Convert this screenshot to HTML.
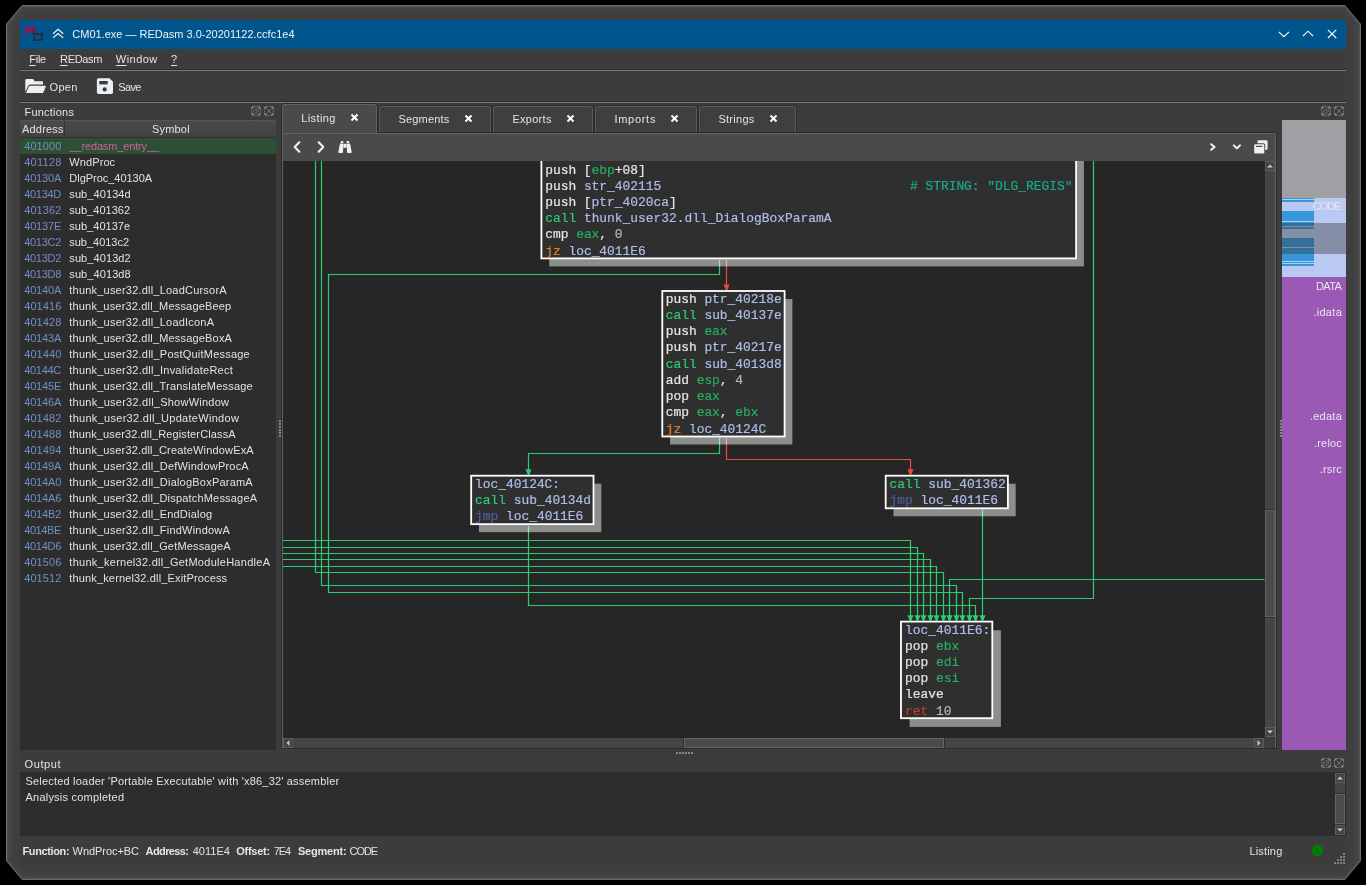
<!DOCTYPE html>
<html><head><meta charset="utf-8"><title>REDasm</title>
<style>
*{box-sizing:border-box;margin:0;padding:0}
html,body{width:1366px;height:885px;overflow:hidden;background:#000}
#root{left:0;top:0;width:1366px;height:885px;will-change:transform}
body{position:relative;font-family:"Liberation Sans",sans-serif;font-size:11px;letter-spacing:.27px;color:#e4e4e4;-webkit-font-smoothing:antialiased}
div,span,i,b,svg{position:absolute;font-style:normal;font-weight:normal;white-space:pre}
#win{left:20px;top:20px;width:1326px;height:845px;background:#3c3c3c}
#title{left:20px;top:20px;width:1326px;height:29px;background:#00558c}
.hl{left:20px;width:1326px;height:1px;background:#7a7a7a;box-shadow:0 -1px 0 0 #2e2e2e}
/* functions */
#fl{left:20px;top:137px;width:256px;height:613px;background:#2d2d2d}
#fh{left:20px;top:120px;width:256px;height:17px;background:linear-gradient(#4a4a4a,#414141);border-top:1px solid #555}
#fh .sep{left:44px;top:0;width:1px;height:16px;background:#333}
#fl div{left:0;width:256px;height:16px;line-height:16px;font-size:11px}
#fl div.sel{background:#2d5035}
/* tabs */
.tab{top:106px;height:26px;background:#3f3f3f;border:1px solid #5a5a5a;border-bottom:none;border-radius:3px 3px 0 0;box-shadow:0 0 0 1px #2c2c2c}
.tab.on{top:104px;height:29px;background:#4a4a4a;border-color:#626262;box-shadow:-1px 0 0 0 #2c2c2c,1px 0 0 0 #2c2c2c,0 -1px 0 0 #2c2c2c}
.tab svg{top:6.7px;width:9px;height:9px}
.tab.on svg{top:7.8px}
#pane{left:282px;top:133px;width:994px;height:615px;background:#4a4a4a;border:1px solid #626262;border-bottom:none;box-shadow:0 0 0 1px #2b2b2b}
#graph{left:283px;top:161px;width:982px;height:577px;background:#262626;overflow:hidden}
.ln{font-family:"Liberation Mono",monospace;font-size:12.9px;letter-spacing:0;line-height:16px;height:16px;color:#e6e6e6;white-space:pre;-webkit-text-stroke:.2px currentColor}
.r{color:#27ae60}.l{color:#afbdea}.c{color:#2ecc71}.j{color:#e67e22}.m{color:#4e5fa3}.n{color:#b4b4b4}.x{color:#c0392b}.k{color:#18ab8a}
.sb{background:#454545}
.sbtn{background:#444;border:1px solid #5c5c5c}
.sthumb{background:#4b4b4b;border:1px solid #636363;box-shadow:0 -1px 0 0 #303030,0 1px 0 0 #303030}
.sthumb.h{box-shadow:-1px 0 0 0 #303030,1px 0 0 0 #303030}
.tx{line-height:14px;white-space:pre}
.tx u{text-decoration:underline;text-underline-offset:1.5px;text-decoration-thickness:1px}

</style></head>
<body><div id="root">
<svg id="frame" style="left:0;top:0;width:1366px;height:885px" viewBox="0 0 1366 885"><path d="M22 5H1345L1361 24V861L1345 880H22L6 861V24Z" fill="#3e3e3e"/><path d="M22.275 5.5H1344.72L1360.5 24.25V860.75L1344.72 879.5H22.275L6.5 860.75V24.25Z" fill="none" stroke="#6c6c6c" stroke-width="1"/><path d="M22.825 6.5H1344.17L1359.5 24.75V860.25L1344.17 878.5H22.825L7.5 860.25V24.75Z" fill="none" stroke="#505050" stroke-width="1"/><path d="M23.375 7.5H1343.62L1358.5 25.25V859.75L1343.62 877.5H23.375L8.5 859.75V25.25Z" fill="none" stroke="#484848" stroke-width="1"/><path d="M23.925 8.5H1343.08L1357.5 25.75V859.25L1343.08 876.5H23.925L9.5 859.25V25.75Z" fill="none" stroke="#444444" stroke-width="1"/><path d="M24.475 9.5H1342.53L1356.5 26.25V858.75L1342.53 875.5H24.475L10.5 858.75V26.25Z" fill="none" stroke="#414141" stroke-width="1"/><path d="M25.025 10.5H1341.97L1355.5 26.75V858.25L1341.97 874.5H25.025L11.5 858.25V26.75Z" fill="none" stroke="#454545" stroke-width="1"/><path d="M25.575 11.5H1341.42L1354.5 27.25V857.75L1341.42 873.5H25.575L12.5 857.75V27.25Z" fill="none" stroke="#404040" stroke-width="1"/><path d="M26.125 12.5H1340.88L1353.5 27.75V857.25L1340.88 872.5H26.125L13.5 857.25V27.75Z" fill="none" stroke="#434343" stroke-width="1"/></svg>
<div id="win"></div>
<div id="title"><svg style="left:0;top:0;width:1326px;height:29px" viewBox="20 20 1326 29">
<path d="M30.3 31L34.2 34" fill="none" stroke="#6a1430" stroke-width="1.85"/><path d="M25.9 34.8V27.9H34.1V31H28.6" fill="none" stroke="#c20538" stroke-width="1.85" stroke-linejoin="miter"/><path d="M34.1 28.4V31H31" fill="none" stroke="#98102f" stroke-width="1.85" stroke-linejoin="miter"/>
<path d="M33.2 34H42V38.8L40.8 40.1H34.2V36.2" fill="none" stroke="#2b2b33" stroke-width="1.9" stroke-linejoin="miter"/>
<path d="M53 33.7L58.1 29.3L63.2 33.7M53 37.9L58.1 33.5L63.2 37.9" fill="none" stroke="#f2f5f8" stroke-width="1.25"/>
<path d="M1278.8 31.8L1283.9 36.6L1289 31.8M1303 36L1308 31.2L1313 36M1327.9 29.8L1336.3 38M1336.3 29.8L1327.9 38" fill="none" stroke="#f6f8fa" stroke-width="1.15"/>
</svg></div>
<div class="hl" style="top:70px"></div>
<svg style="left:25px;top:78px;width:22px;height:17px" viewBox="0 0 22 17"><path d="M0.3 14.3V2.2Q0.3 1.1 1.3 1.1H7.5Q8.3 1.1 8.8 1.8L9.6 3.2H17Q18 3.2 18 4.2V6.6H5Q3.6 6.6 3.1 7.9Z" fill="#eceff1"/><path d="M1 15.1L3.9 8.4Q4.2 7.7 5 7.7H20Q21.2 7.7 20.8 8.7L18.3 14.4Q18 15.1 17.2 15.1Z" fill="#eceff1"/></svg>
<svg style="left:96px;top:78px;width:18px;height:17px" viewBox="0 0 18 17"><path d="M0.9 2Q0.9 0.2 2.7 0.2H13.4L17 3.8V14.3Q17 16.1 15.2 16.1H2.7Q0.9 16.1 0.9 14.3Z" fill="#eceff1"/><rect x="3.3" y="3" width="8.4" height="3.4" fill="#3c3c3c"/><circle cx="8.7" cy="11.4" r="2.1" fill="#3c3c3c"/></svg>
<div class="hl" style="top:102px"></div>

<!-- Functions dock -->
<svg class="dbtn" style="left:251px;top:105.5px;width:24px;height:11px" viewBox="0 0 24 11"><g fill="none" stroke-width="1"><path d="M2.5 .5H7.5L9.5 2.5V7.5L7.5 9.5H2.5L.5 7.5V2.5Z" stroke="#605e5c"/><path d="M.5 2.5L2.5 .5M7.5 .5L9.5 2.5M9.5 7.5L7.5 9.5M2.5 9.5L.5 7.5" stroke="#9c9896" stroke-width="1.3"/><path d="M2.6 4.2H6V7.4H2.6Z" stroke="#6a6866"/><path d="M4.2 2.7H7.5V6H6.6" stroke="#626060"/><path d="M15.5 .5H20.5L22.5 2.5V7.5L20.5 9.5H15.5L13.5 7.5V2.5Z" stroke="#605e5c"/><path d="M13.5 2.5L15.5 .5M20.5 .5L22.5 2.5M22.5 7.5L20.5 9.5M15.5 9.5L13.5 7.5" stroke="#9c9896" stroke-width="1.3"/><path d="M15.6 2.6L20.4 7.4M20.4 2.6L15.6 7.4" stroke="#757371"/></g></svg>
<div id="fh"><div class="sep"></div></div>
<div id="fl">
<div class="sel" style="top:1px"></div>
<div style="top:17px"></div>
<div style="top:33px"></div>
<div style="top:49px"></div>
<div style="top:65px"></div>
<div style="top:81px"></div>
<div style="top:97px"></div>
<div style="top:113px"></div>
<div style="top:129px"></div>
<div style="top:145px"></div>
<div style="top:161px"></div>
<div style="top:177px"></div>
<div style="top:193px"></div>
<div style="top:209px"></div>
<div style="top:225px"></div>
<div style="top:241px"></div>
<div style="top:257px"></div>
<div style="top:273px"></div>
<div style="top:289px"></div>
<div style="top:305px"></div>
<div style="top:321px"></div>
<div style="top:337px"></div>
<div style="top:353px"></div>
<div style="top:369px"></div>
<div style="top:385px"></div>
<div style="top:401px"></div>
<div style="top:417px"></div>
<div style="top:433px"></div>
</div>
<!-- splitter dots -->
<svg style="left:279px;top:420px;width:2px;height:17px" viewBox="0 0 2 17"><g fill="#878787"><rect x="0" y="0" width="2" height="2"/><rect x="0" y="3" width="2" height="2"/><rect x="0" y="6" width="2" height="2"/><rect x="0" y="9" width="2" height="2"/><rect x="0" y="12" width="2" height="2"/><rect x="0" y="15" width="2" height="2"/></g></svg>
<svg style="left:1280px;top:420px;width:2px;height:17px" viewBox="0 0 2 17"><g fill="#878787"><rect x="0" y="0" width="2" height="2"/><rect x="0" y="3" width="2" height="2"/><rect x="0" y="6" width="2" height="2"/><rect x="0" y="9" width="2" height="2"/><rect x="0" y="12" width="2" height="2"/><rect x="0" y="15" width="2" height="2"/></g></svg>

<!-- Tabs -->
<div class="tab" style="left:379px;width:112px"><svg style="left:84px" viewBox="0 0 9 9"><path d="M1.5 1.5L7.5 7.5M7.5 1.5L1.5 7.5" stroke="#fff" stroke-width="2" fill="none"/></svg></div>
<div class="tab" style="left:493px;width:100px"><svg style="left:71.8px" viewBox="0 0 9 9"><path d="M1.5 1.5L7.5 7.5M7.5 1.5L1.5 7.5" stroke="#fff" stroke-width="2" fill="none"/></svg></div>
<div class="tab" style="left:595px;width:102px"><svg style="left:73.5px" viewBox="0 0 9 9"><path d="M1.5 1.5L7.5 7.5M7.5 1.5L1.5 7.5" stroke="#fff" stroke-width="2" fill="none"/></svg></div>
<div class="tab" style="left:699px;width:97px"><svg style="left:69.2px" viewBox="0 0 9 9"><path d="M1.5 1.5L7.5 7.5M7.5 1.5L1.5 7.5" stroke="#fff" stroke-width="2" fill="none"/></svg></div>
<div id="pane"></div>
<div class="tab on" style="left:282px;width:95px"><svg style="left:66.9px" viewBox="0 0 9 9"><path d="M1.5 1.5L7.5 7.5M7.5 1.5L1.5 7.5" stroke="#fff" stroke-width="2" fill="none"/></svg></div>
<!-- nav icons -->
<svg style="left:283px;top:133px;width:993px;height:28px" viewBox="283 133 993 28"><g fill="none" stroke="#f3f3f3" stroke-width="2.1" stroke-linecap="round" stroke-linejoin="round">
<path d="M299.3 142.3L294.7 147L299.3 151.7"/><path d="M318.7 142.3L323.3 147L318.7 151.7"/>
<path d="M1211.2 144.2L1214.6 147L1211.2 149.8" stroke-width="2"/><path d="M1233.8 145.4L1236.9 148.4L1240 145.4" stroke-width="2"/></g>
<g fill="#f1f1f1"><rect x="340.8" y="141" width="2.5" height="1.9"/><rect x="346.7" y="141" width="2.5" height="1.9"/>
<path d="M340 143.4H343.3L343 152Q343 153 342 153H339.2Q338.1 153 338.3 152Z"/><path d="M346.7 143.4H350L351.7 152Q351.9 153 350.8 153H348Q347 153 347 152Z"/><rect x="343.4" y="143.8" width="3.2" height="4"/>
<path d="M1257.5 141.5Q1257.5 140.2 1258.8 140.2H1266.2Q1267.6 140.2 1267.6 141.5V148.6Q1267.6 149.9 1266.2 149.9H1265.3V145.3Q1265.3 143.2 1263.2 143.2H1257.5Z"/>
<rect x="1254.2" y="144.2" width="10.1" height="9.4" rx="1.4"/></g>
<rect x="1256" y="145.8" width="6.4" height="1.2" fill="#4a4a4a"/>
</svg>
<div id="graph">
<svg style="left:0;top:0;width:982px;height:577px" viewBox="283 161 982 577">
<rect x="549.2" y="108" width="534.7" height="158.4" fill="#8b8e8b"/>
<rect x="670.1" y="299" width="122.3" height="145.5" fill="#8b8e8b"/>
<rect x="479" y="483.7" width="122.3" height="48.45" fill="#8b8e8b"/>
<rect x="893.5" y="483.7" width="122.2" height="32.6" fill="#8b8e8b"/>
<rect x="909.6" y="630.3" width="91.3" height="96.6" fill="#8b8e8b"/>
<g fill="none" stroke-width="1.2" stroke-linejoin="miter">
<path d="M315.5 160.5 L315.5 572.5 L943.5 572.5 L943.5 618" stroke="#2ecc71"/>
<path d="M321.5 160.5 L321.5 585.5 L956.5 585.5 L956.5 618" stroke="#2ecc71"/>
<path d="M719.5 261.5 L719.5 274.5 L328.5 274.5 L328.5 592.5 L962.5 592.5 L962.5 618" stroke="#2ecc71"/>
<path d="M282.5 540.5 L910.5 540.5 L910.5 618" stroke="#2ecc71"/>
<path d="M282.5 547.5 L917.5 547.5 L917.5 618" stroke="#2ecc71"/>
<path d="M282.5 553.5 L923.5 553.5 L923.5 618" stroke="#2ecc71"/>
<path d="M282.5 559.5 L930.5 559.5 L930.5 618" stroke="#2ecc71"/>
<path d="M282.5 566.5 L936.5 566.5 L936.5 618" stroke="#2ecc71"/>
<path d="M1264.5 579.5 L949.5 579.5 L949.5 618" stroke="#2ecc71"/>
<path d="M1093.5 160.5 L1093.5 598.5 L969.5 598.5 L969.5 618" stroke="#2ecc71"/>
<path d="M528.5 526.5 L528.5 605.5 L975.5 605.5 L975.5 618" stroke="#2ecc71"/>
<path d="M982.5 511.5 L982.5 618" stroke="#2ecc71"/>
<path d="M719.5 440.5 L719.5 453.5 L528.5 453.5 L528.5 472.5" stroke="#2ecc71"/>
<path d="M726.5 261.5 L726.5 287.5" stroke="#e74c3c"/>
<path d="M726.5 440.5 L726.5 459.5 L910.5 459.5 L910.5 472.5" stroke="#e74c3c"/>
<path d="M719.5 260V266.5" stroke="#a9dcbb"/>
<path d="M726.5 260V266.5" stroke="#eeb0a8"/>
<path d="M719.5 438V444.5" stroke="#a9dcbb"/>
<path d="M726.5 438V444.5" stroke="#eeb0a8"/>
<path d="M528.5 526V532.5" stroke="#a9dcbb"/>
<path d="M982.5 510V516.5" stroke="#a9dcbb"/>
</g>
<path d="M907.5 615.2H913.5L911.1 621.2H909.9Z" fill="#2ecc71"/>
<path d="M914.5 615.2H920.5L918.1 621.2H916.9Z" fill="#2ecc71"/>
<path d="M920.5 615.2H926.5L924.1 621.2H922.9Z" fill="#2ecc71"/>
<path d="M927.5 615.2H933.5L931.1 621.2H929.9Z" fill="#2ecc71"/>
<path d="M933.5 615.2H939.5L937.1 621.2H935.9Z" fill="#2ecc71"/>
<path d="M940.5 615.2H946.5L944.1 621.2H942.9Z" fill="#2ecc71"/>
<path d="M946.5 615.2H952.5L950.1 621.2H948.9Z" fill="#2ecc71"/>
<path d="M953.5 615.2H959.5L957.1 621.2H955.9Z" fill="#2ecc71"/>
<path d="M959.5 615.2H965.5L963.1 621.2H961.9Z" fill="#2ecc71"/>
<path d="M966.5 615.2H972.5L970.1 621.2H968.9Z" fill="#2ecc71"/>
<path d="M972.5 615.2H978.5L976.1 621.2H974.9Z" fill="#2ecc71"/>
<path d="M979.5 615.2H985.5L983.1 621.2H981.9Z" fill="#2ecc71"/>
<path d="M525.5 469.2H531.5L529.1 475.2H527.9Z" fill="#2ecc71"/>
<path d="M723.5 284.6H729.5L727.1 290.6H725.9Z" fill="#e74c3c"/>
<path d="M907.5 469.2H913.5L911.1 475.2H909.9Z" fill="#e74c3c"/>
<rect x="541.4" y="100" width="534.7" height="158.4" fill="#2f2f2f" stroke="#fff" stroke-width="1.8"/>
<rect x="662.3" y="291" width="122.3" height="145.5" fill="#2f2f2f" stroke="#fff" stroke-width="1.8"/>
<rect x="471.2" y="475.7" width="122.3" height="48.45" fill="#2f2f2f" stroke="#fff" stroke-width="1.8"/>
<rect x="885.7" y="475.7" width="122.2" height="32.6" fill="#2f2f2f" stroke="#fff" stroke-width="1.8"/>
<rect x="901" y="621.6" width="91.3" height="96.6" fill="#2f2f2f" stroke="#fff" stroke-width="1.8"/>
</svg>
<div class="ln" style="left:262.20px;top:1.66px">push [<span class="r" style="position:static">ebp</span>+08]</div>
<div class="ln" style="left:262.20px;top:17.83px">push <span class="l" style="position:static">str_402115</span>                                <span class="k" style="position:static;margin-left:1.2px"># STRING: "DLG_REGIS"</span></div>
<div class="ln" style="left:262.20px;top:34.00px">push [<span class="l" style="position:static">ptr_4020ca</span>]</div>
<div class="ln" style="left:262.20px;top:50.17px"><span class="c" style="position:static">call</span> <span class="l" style="position:static">thunk_user32.dll_DialogBoxParamA</span></div>
<div class="ln" style="left:262.20px;top:66.34px">cmp <span class="r" style="position:static">eax</span>, <span class="n" style="position:static">0</span></div>
<div class="ln" style="left:262.20px;top:82.51px"><span class="j" style="position:static">jz</span> <span class="l" style="position:static">loc_4011E6</span></div>
<div class="ln" style="left:382.70px;top:130.51px">push <span class="l" style="position:static">ptr_40218e</span></div>
<div class="ln" style="left:382.70px;top:146.79px"><span class="c" style="position:static">call</span> <span class="l" style="position:static">sub_40137e</span></div>
<div class="ln" style="left:382.70px;top:163.07px">push <span class="r" style="position:static">eax</span></div>
<div class="ln" style="left:382.70px;top:179.35px">push <span class="l" style="position:static">ptr_40217e</span></div>
<div class="ln" style="left:382.70px;top:195.63px"><span class="c" style="position:static">call</span> <span class="l" style="position:static">sub_4013d8</span></div>
<div class="ln" style="left:382.70px;top:211.91px">add <span class="r" style="position:static">esp</span>, <span class="n" style="position:static">4</span></div>
<div class="ln" style="left:382.70px;top:228.19px">pop <span class="r" style="position:static">eax</span></div>
<div class="ln" style="left:382.70px;top:244.47px">cmp <span class="r" style="position:static">eax</span>, <span class="r" style="position:static">ebx</span></div>
<div class="ln" style="left:382.70px;top:260.75px"><span class="j" style="position:static">jz</span> <span class="l" style="position:static">loc_40124C</span></div>
<div class="ln" style="left:192.00px;top:315.66px"><span class="l" style="position:static">loc_40124C:</span></div>
<div class="ln" style="left:192.00px;top:331.71px"><span class="c" style="position:static">call</span> <span class="l" style="position:static">sub_40134d</span></div>
<div class="ln" style="left:192.00px;top:347.56px"><span class="m" style="position:static">jmp</span> <span class="l" style="position:static">loc_4011E6</span></div>
<div class="ln" style="left:606.60px;top:315.76px"><span class="c" style="position:static">call</span> <span class="l" style="position:static">sub_401362</span></div>
<div class="ln" style="left:606.60px;top:331.66px"><span class="m" style="position:static">jmp</span> <span class="l" style="position:static">loc_4011E6</span></div>
<div class="ln" style="left:622.10px;top:461.76px"><span class="l" style="position:static">loc_4011E6:</span></div>
<div class="ln" style="left:622.10px;top:477.96px">pop <span class="r" style="position:static">ebx</span></div>
<div class="ln" style="left:622.10px;top:493.86px">pop <span class="r" style="position:static">edi</span></div>
<div class="ln" style="left:622.10px;top:509.86px">pop <span class="r" style="position:static">esi</span></div>
<div class="ln" style="left:622.10px;top:525.66px">leave</div>
<div class="ln" style="left:622.10px;top:542.76px"><span class="x" style="position:static">ret</span> <span class="n" style="position:static">10</span></div>
</div>

<div class="sb" style="left:1265px;top:161px;width:10px;height:576px"></div>
<div style="left:1264px;top:737px;width:11px;height:11px;background:#3d3d3d"></div>
<div class="sbtn" style="left:1265px;top:161px;width:10px;height:10px"><svg viewBox="0 0 10 10" style="left:-1px;top:-1px;width:10px;height:10px"><path d="M2 6.5L5 3.5L8 6.5Z" fill="#c8c8c8"/></svg></div>
<div class="sbtn" style="left:1265px;top:727px;width:10px;height:10px"><svg viewBox="0 0 10 10" style="left:-1px;top:-1px;width:10px;height:10px"><path d="M2 3.5L5 6.5L8 3.5Z" fill="#c8c8c8"/></svg></div>
<div class="sthumb" style="left:1265px;top:510px;width:10px;height:107px"></div>
<div class="sb" style="left:283px;top:738px;width:981px;height:10px"></div>
<div class="sbtn" style="left:283px;top:738px;width:10px;height:10px"><svg viewBox="0 0 10 10" style="left:-1px;top:-1px;width:10px;height:10px"><path d="M6.5 2L3.5 5L6.5 8Z" fill="#c8c8c8"/></svg></div>
<div class="sbtn" style="left:1254px;top:738px;width:10px;height:10px"><svg viewBox="0 0 10 10" style="left:-1px;top:-1px;width:10px;height:10px"><path d="M3.5 2L6.5 5L3.5 8Z" fill="#c8c8c8"/></svg></div>
<div class="sthumb h" style="left:684px;top:738px;width:260px;height:10px"></div>

<div id="mm" style="left:1282px;top:120px;width:64px;height:630px;background:#9b59b6;overflow:hidden">
<div style="left:0px;top:0px;width:64px;height:78px;background:#a09fa3"></div>
<div style="left:0px;top:78px;width:64px;height:79px;background:#b9c9f1"></div>
<div style="left:0px;top:78px;width:32px;height:1px;background:#3498db"></div>
<div style="left:0px;top:80px;width:32px;height:2px;background:#3498db"></div>
<div style="left:0px;top:91px;width:32px;height:10px;background:#3498db"></div>
<div style="left:0px;top:102px;width:32px;height:4px;background:#3498db"></div>
<div style="left:0px;top:107px;width:32px;height:2px;background:#3498db"></div>
<div style="left:0px;top:118px;width:32px;height:9px;background:#3498db"></div>
<div style="left:0px;top:128px;width:32px;height:13px;background:#3498db"></div>
<div style="left:0px;top:142px;width:32px;height:1px;background:#3498db"></div>
<div style="left:0px;top:144px;width:32px;height:2px;background:#3498db"></div>
<div style="left:0px;top:103px;width:64px;height:31px;background:rgba(48,48,48,.38)"></div>
</div>
<svg class="dbtn" style="left:1320.5px;top:105.5px;width:24px;height:11px" viewBox="0 0 24 11"><g fill="none" stroke-width="1"><path d="M2.5 .5H7.5L9.5 2.5V7.5L7.5 9.5H2.5L.5 7.5V2.5Z" stroke="#605e5c"/><path d="M.5 2.5L2.5 .5M7.5 .5L9.5 2.5M9.5 7.5L7.5 9.5M2.5 9.5L.5 7.5" stroke="#9c9896" stroke-width="1.3"/><path d="M2.6 4.2H6V7.4H2.6Z" stroke="#6a6866"/><path d="M4.2 2.7H7.5V6H6.6" stroke="#626060"/><path d="M15.5 .5H20.5L22.5 2.5V7.5L20.5 9.5H15.5L13.5 7.5V2.5Z" stroke="#605e5c"/><path d="M13.5 2.5L15.5 .5M20.5 .5L22.5 2.5M22.5 7.5L20.5 9.5M15.5 9.5L13.5 7.5" stroke="#9c9896" stroke-width="1.3"/><path d="M15.6 2.6L20.4 7.4M20.4 2.6L15.6 7.4" stroke="#757371"/></g></svg>

<svg style="left:676px;top:752px;width:17px;height:2px" viewBox="0 0 17 2"><g fill="#878787"><rect x="0" y="0" width="2" height="2"/><rect x="3" y="0" width="2" height="2"/><rect x="6" y="0" width="2" height="2"/><rect x="9" y="0" width="2" height="2"/><rect x="12" y="0" width="2" height="2"/><rect x="15" y="0" width="2" height="2"/></g></svg>
<svg class="dbtn" style="left:1320.5px;top:757.5px;width:24px;height:11px" viewBox="0 0 24 11"><g fill="none" stroke-width="1"><path d="M2.5 .5H7.5L9.5 2.5V7.5L7.5 9.5H2.5L.5 7.5V2.5Z" stroke="#605e5c"/><path d="M.5 2.5L2.5 .5M7.5 .5L9.5 2.5M9.5 7.5L7.5 9.5M2.5 9.5L.5 7.5" stroke="#9c9896" stroke-width="1.3"/><path d="M2.6 4.2H6V7.4H2.6Z" stroke="#6a6866"/><path d="M4.2 2.7H7.5V6H6.6" stroke="#626060"/><path d="M15.5 .5H20.5L22.5 2.5V7.5L20.5 9.5H15.5L13.5 7.5V2.5Z" stroke="#605e5c"/><path d="M13.5 2.5L15.5 .5M20.5 .5L22.5 2.5M22.5 7.5L20.5 9.5M15.5 9.5L13.5 7.5" stroke="#9c9896" stroke-width="1.3"/><path d="M15.6 2.6L20.4 7.4M20.4 2.6L15.6 7.4" stroke="#757371"/></g></svg>
<div id="out" style="left:20px;top:772px;width:1326px;height:64px;background:#2d2d2d"></div>
<div class="sb" style="left:1335px;top:773px;width:10px;height:62px"></div>
<div class="sbtn" style="left:1335px;top:773px;width:10px;height:10px"><svg viewBox="0 0 10 10" style="left:-1px;top:-1px;width:10px;height:10px"><path d="M2 6.5L5 3.5L8 6.5Z" fill="#c8c8c8"/></svg></div>
<div class="sbtn" style="left:1335px;top:825px;width:10px;height:10px"><svg viewBox="0 0 10 10" style="left:-1px;top:-1px;width:10px;height:10px"><path d="M2 3.5L5 6.5L8 3.5Z" fill="#c8c8c8"/></svg></div>
<div class="sthumb" style="left:1335px;top:794px;width:10px;height:30px"></div>
<svg style="left:1300px;top:838px;width:46px;height:27px" viewBox="1300 838 46 27"><circle cx="1317.5" cy="850.6" r="5.5" fill="#008000"/><path d="M1317.3 847.8V851L1318.7 852" fill="none" stroke="#005f00" stroke-width="1.1"/><g fill="#828282"><rect x="1343" y="853" width="2" height="2"/><rect x="1343" y="856" width="2" height="2"/><rect x="1340" y="856" width="2" height="2"/><rect x="1343" y="859" width="2" height="2"/><rect x="1340" y="859" width="2" height="2"/><rect x="1337" y="859" width="2" height="2"/><rect x="1343" y="862" width="2" height="2"/><rect x="1340" y="862" width="2" height="2"/><rect x="1337" y="862" width="2" height="2"/><rect x="1334" y="862" width="2" height="2"/></g></svg>

<div class="tx" style="left:24.20px;top:138.80px;font-size:11px;letter-spacing:0.079px;color:#6e90c4;">401000</div>
<div class="tx" style="left:69.48px;top:138.80px;font-size:11px;letter-spacing:-0.142px;color:#d0609f;">__redasm_entry__</div>
<div class="tx" style="left:24.20px;top:154.80px;font-size:11px;letter-spacing:0.241px;color:#6e90c4;">401128</div>
<div class="tx" style="left:69.30px;top:154.80px;font-size:11px;letter-spacing:0.095px;color:#e2e2e2;">WndProc</div>
<div class="tx" style="left:24.20px;top:170.80px;font-size:11px;letter-spacing:-0.166px;color:#6e90c4;">40130A</div>
<div class="tx" style="left:69.30px;top:170.80px;font-size:11px;letter-spacing:-0.029px;color:#e2e2e2;">DlgProc_40130A</div>
<div class="tx" style="left:24.20px;top:186.80px;font-size:11px;letter-spacing:-0.287px;color:#6e90c4;">40134D</div>
<div class="tx" style="left:69.30px;top:186.80px;font-size:11px;letter-spacing:0.094px;color:#e2e2e2;">sub_40134d</div>
<div class="tx" style="left:24.20px;top:202.80px;font-size:11px;letter-spacing:0.079px;color:#6e90c4;">401362</div>
<div class="tx" style="left:69.30px;top:202.80px;font-size:11px;letter-spacing:0.027px;color:#e2e2e2;">sub_401362</div>
<div class="tx" style="left:24.20px;top:218.80px;font-size:11px;letter-spacing:-0.166px;color:#6e90c4;">40137E</div>
<div class="tx" style="left:69.30px;top:218.80px;font-size:11px;letter-spacing:0.027px;color:#e2e2e2;">sub_40137e</div>
<div class="tx" style="left:24.20px;top:234.80px;font-size:11px;letter-spacing:-0.287px;color:#6e90c4;">4013C2</div>
<div class="tx" style="left:69.30px;top:234.80px;font-size:11px;letter-spacing:-0.027px;color:#e2e2e2;">sub_4013c2</div>
<div class="tx" style="left:24.20px;top:250.80px;font-size:11px;letter-spacing:-0.287px;color:#6e90c4;">4013D2</div>
<div class="tx" style="left:69.30px;top:250.80px;font-size:11px;letter-spacing:0.094px;color:#e2e2e2;">sub_4013d2</div>
<div class="tx" style="left:24.20px;top:266.80px;font-size:11px;letter-spacing:-0.287px;color:#6e90c4;">4013D8</div>
<div class="tx" style="left:69.30px;top:266.80px;font-size:11px;letter-spacing:0.094px;color:#e2e2e2;">sub_4013d8</div>
<div class="tx" style="left:24.20px;top:282.80px;font-size:11px;letter-spacing:-0.166px;color:#6e90c4;">40140A</div>
<div class="tx" style="left:69.30px;top:282.80px;font-size:11px;letter-spacing:0.209px;color:#e2e2e2;">thunk_user32.dll_LoadCursorA</div>
<div class="tx" style="left:24.20px;top:298.80px;font-size:11px;letter-spacing:0.079px;color:#6e90c4;">401416</div>
<div class="tx" style="left:69.30px;top:298.80px;font-size:11px;letter-spacing:0.175px;color:#e2e2e2;">thunk_user32.dll_MessageBeep</div>
<div class="tx" style="left:24.20px;top:314.80px;font-size:11px;letter-spacing:0.079px;color:#6e90c4;">401428</div>
<div class="tx" style="left:69.30px;top:314.80px;font-size:11px;letter-spacing:0.211px;color:#e2e2e2;">thunk_user32.dll_LoadIconA</div>
<div class="tx" style="left:24.20px;top:330.80px;font-size:11px;letter-spacing:-0.166px;color:#6e90c4;">40143A</div>
<div class="tx" style="left:69.30px;top:330.80px;font-size:11px;letter-spacing:0.179px;color:#e2e2e2;">thunk_user32.dll_MessageBoxA</div>
<div class="tx" style="left:24.20px;top:346.80px;font-size:11px;letter-spacing:0.079px;color:#6e90c4;">401440</div>
<div class="tx" style="left:69.30px;top:346.80px;font-size:11px;letter-spacing:0.218px;color:#e2e2e2;">thunk_user32.dll_PostQuitMessage</div>
<div class="tx" style="left:24.20px;top:362.80px;font-size:11px;letter-spacing:-0.287px;color:#6e90c4;">40144C</div>
<div class="tx" style="left:69.30px;top:362.80px;font-size:11px;letter-spacing:0.228px;color:#e2e2e2;">thunk_user32.dll_InvalidateRect</div>
<div class="tx" style="left:24.20px;top:378.80px;font-size:11px;letter-spacing:-0.166px;color:#6e90c4;">40145E</div>
<div class="tx" style="left:69.30px;top:378.80px;font-size:11px;letter-spacing:0.202px;color:#e2e2e2;">thunk_user32.dll_TranslateMessage</div>
<div class="tx" style="left:24.20px;top:394.80px;font-size:11px;letter-spacing:-0.166px;color:#6e90c4;">40146A</div>
<div class="tx" style="left:69.30px;top:394.80px;font-size:11px;letter-spacing:0.238px;color:#e2e2e2;">thunk_user32.dll_ShowWindow</div>
<div class="tx" style="left:24.20px;top:410.80px;font-size:11px;letter-spacing:0.079px;color:#6e90c4;">401482</div>
<div class="tx" style="left:69.30px;top:410.80px;font-size:11px;letter-spacing:0.290px;color:#e2e2e2;">thunk_user32.dll_UpdateWindow</div>
<div class="tx" style="left:24.20px;top:426.80px;font-size:11px;letter-spacing:0.079px;color:#6e90c4;">401488</div>
<div class="tx" style="left:69.30px;top:426.80px;font-size:11px;letter-spacing:0.122px;color:#e2e2e2;">thunk_user32.dll_RegisterClassA</div>
<div class="tx" style="left:24.20px;top:442.80px;font-size:11px;letter-spacing:0.079px;color:#6e90c4;">401494</div>
<div class="tx" style="left:69.30px;top:442.80px;font-size:11px;letter-spacing:0.169px;color:#e2e2e2;">thunk_user32.dll_CreateWindowExA</div>
<div class="tx" style="left:24.20px;top:458.80px;font-size:11px;letter-spacing:-0.166px;color:#6e90c4;">40149A</div>
<div class="tx" style="left:69.30px;top:458.80px;font-size:11px;letter-spacing:0.212px;color:#e2e2e2;">thunk_user32.dll_DefWindowProcA</div>
<div class="tx" style="left:24.20px;top:474.80px;font-size:11px;letter-spacing:-0.166px;color:#6e90c4;">4014A0</div>
<div class="tx" style="left:69.30px;top:474.80px;font-size:11px;letter-spacing:0.216px;color:#e2e2e2;">thunk_user32.dll_DialogBoxParamA</div>
<div class="tx" style="left:24.20px;top:490.80px;font-size:11px;letter-spacing:-0.166px;color:#6e90c4;">4014A6</div>
<div class="tx" style="left:69.30px;top:490.80px;font-size:11px;letter-spacing:0.193px;color:#e2e2e2;">thunk_user32.dll_DispatchMessageA</div>
<div class="tx" style="left:24.20px;top:506.80px;font-size:11px;letter-spacing:-0.166px;color:#6e90c4;">4014B2</div>
<div class="tx" style="left:69.30px;top:506.80px;font-size:11px;letter-spacing:0.208px;color:#e2e2e2;">thunk_user32.dll_EndDialog</div>
<div class="tx" style="left:24.20px;top:522.80px;font-size:11px;letter-spacing:-0.410px;color:#6e90c4;">4014BE</div>
<div class="tx" style="left:69.30px;top:522.80px;font-size:11px;letter-spacing:0.215px;color:#e2e2e2;">thunk_user32.dll_FindWindowA</div>
<div class="tx" style="left:24.20px;top:538.80px;font-size:11px;letter-spacing:-0.287px;color:#6e90c4;">4014D6</div>
<div class="tx" style="left:69.30px;top:538.80px;font-size:11px;letter-spacing:0.176px;color:#e2e2e2;">thunk_user32.dll_GetMessageA</div>
<div class="tx" style="left:24.20px;top:554.80px;font-size:11px;letter-spacing:0.079px;color:#6e90c4;">401506</div>
<div class="tx" style="left:69.30px;top:554.80px;font-size:11px;letter-spacing:0.273px;color:#e2e2e2;">thunk_kernel32.dll_GetModuleHandleA</div>
<div class="tx" style="left:24.20px;top:570.80px;font-size:11px;letter-spacing:0.079px;color:#6e90c4;">401512</div>
<div class="tx" style="left:69.30px;top:570.80px;font-size:11px;letter-spacing:0.149px;color:#e2e2e2;">thunk_kernel32.dll_ExitProcess</div>
<div class="tx" style="left:72.30px;top:27.00px;font-size:11px;letter-spacing:-0.004px;color:#eef3f8;">CM01.exe — REDasm 3.0-20201122.ccfc1e4</div>
<div class="tx" style="left:29.20px;top:52.00px;font-size:11px;letter-spacing:-0.240px;color:#e4e4e4;"><u>F</u>ile</div>
<div class="tx" style="left:60.00px;top:52.00px;font-size:11px;letter-spacing:-0.322px;color:#e4e4e4;"><u>R</u>EDasm</div>
<div class="tx" style="left:115.80px;top:52.00px;font-size:11px;letter-spacing:0.470px;color:#e4e4e4;"><u>W</u>indow</div>
<div class="tx" style="left:171.00px;top:52.00px;font-size:11px;letter-spacing:0.000px;color:#e4e4e4;"><u>?</u></div>
<div class="tx" style="left:49.60px;top:80.10px;font-size:11px;letter-spacing:0.265px;color:#e4e4e4;">Open</div>
<div class="tx" style="left:118.20px;top:80.10px;font-size:11px;letter-spacing:-0.590px;color:#e4e4e4;">Save</div>
<div class="tx" style="left:24.50px;top:104.80px;font-size:11px;letter-spacing:0.214px;color:#e4e4e4;">Functions</div>
<div class="tx" style="left:22.00px;top:122.00px;font-size:11px;letter-spacing:0.192px;color:#e4e4e4;">Address</div>
<div class="tx" style="left:152.00px;top:122.00px;font-size:11px;letter-spacing:0.183px;color:#e4e4e4;">Symbol</div>
<div class="tx" style="left:301.30px;top:111.10px;font-size:11px;letter-spacing:0.367px;color:#e4e4e4;">Listing</div>
<div class="tx" style="left:398.50px;top:112.00px;font-size:11px;letter-spacing:0.183px;color:#e4e4e4;">Segments</div>
<div class="tx" style="left:512.40px;top:112.00px;font-size:11px;letter-spacing:0.285px;color:#e4e4e4;">Exports</div>
<div class="tx" style="left:614.40px;top:112.00px;font-size:11px;letter-spacing:0.721px;color:#e4e4e4;">Imports</div>
<div class="tx" style="left:718.40px;top:112.00px;font-size:11px;letter-spacing:0.278px;color:#e4e4e4;">Strings</div>
<div class="tx" style="left:1313.00px;top:198.80px;font-size:11px;letter-spacing:-1.093px;color:#e8e6f0;">CODE</div>
<div class="tx" style="left:1315.90px;top:278.50px;font-size:11px;letter-spacing:-0.603px;color:#e8e6f0;">DATA</div>
<div class="tx" style="left:1313.30px;top:304.50px;font-size:11px;letter-spacing:0.317px;color:#e8e6f0;">.idata</div>
<div class="tx" style="left:1309.90px;top:409.20px;font-size:11px;letter-spacing:0.262px;color:#e8e6f0;">.edata</div>
<div class="tx" style="left:1314.00px;top:436.20px;font-size:11px;letter-spacing:0.181px;color:#e8e6f0;">.reloc</div>
<div class="tx" style="left:1319.80px;top:461.60px;font-size:11px;letter-spacing:0.154px;color:#e8e6f0;">.rsrc</div>
<div class="tx" style="left:24.60px;top:757.00px;font-size:11px;letter-spacing:0.596px;color:#e4e4e4;">Output</div>
<div class="tx" style="left:25.50px;top:774.00px;font-size:11px;letter-spacing:0.195px;color:#e2e2e2;">Selected loader 'Portable Executable' with 'x86_32' assembler</div>
<div class="tx" style="left:25.50px;top:790.00px;font-size:11px;letter-spacing:0.220px;color:#e2e2e2;">Analysis completed</div>
<div class="tx" style="left:22.50px;top:844.40px;font-size:11px;letter-spacing:-0.374px;color:#e4e4e4;font-weight:bold;">Function:</div>
<div class="tx" style="left:72.60px;top:844.40px;font-size:11px;letter-spacing:-0.059px;color:#e4e4e4;">WndProc+BC</div>
<div class="tx" style="left:145.60px;top:844.40px;font-size:11px;letter-spacing:-0.612px;color:#e4e4e4;font-weight:bold;">Address:</div>
<div class="tx" style="left:192.70px;top:844.40px;font-size:11px;letter-spacing:0.017px;color:#e4e4e4;">4011E4</div>
<div class="tx" style="left:236.20px;top:844.40px;font-size:11px;letter-spacing:-0.257px;color:#e4e4e4;font-weight:bold;">Offset:</div>
<div class="tx" style="left:273.70px;top:844.40px;font-size:11px;letter-spacing:-1.084px;color:#e4e4e4;">7E4</div>
<div class="tx" style="left:298.00px;top:844.40px;font-size:11px;letter-spacing:-0.217px;color:#e4e4e4;font-weight:bold;">Segment:</div>
<div class="tx" style="left:349.60px;top:844.40px;font-size:11px;letter-spacing:-1.060px;color:#e4e4e4;">CODE</div>
<div class="tx" style="left:1249.40px;top:844.40px;font-size:11px;letter-spacing:0.183px;color:#e4e4e4;">Listing</div>

</div></body></html>
